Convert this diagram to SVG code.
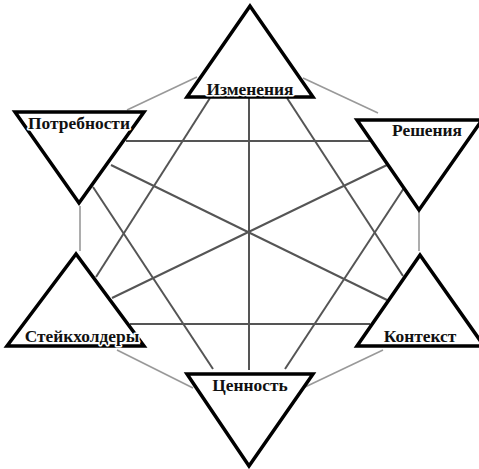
<svg xmlns="http://www.w3.org/2000/svg" width="479" height="469" viewBox="0 0 479 469">
<style>
.tri{fill:none;stroke:#000;stroke-width:3.5;stroke-linejoin:miter}
.lbl{font-family:"Liberation Serif","Times New Roman",serif;font-weight:bold;font-size:17.4px;fill:#111;text-anchor:middle;paint-order:stroke;stroke:#fff;stroke-width:3px;stroke-linejoin:round}
.in{stroke:#555;stroke-width:2;fill:none}
.out{stroke:#999;stroke-width:1.6;fill:none}
</style>
<rect width="479" height="469" fill="#fff"/>
<g id="connectors">
<line class="out" x1="197" y1="77" x2="127" y2="110"/>
<line class="out" x1="303" y1="78" x2="378" y2="113"/>
<line class="out" x1="80" y1="206" x2="80" y2="251"/>
<line class="out" x1="419" y1="212" x2="419" y2="251"/>
<line class="out" x1="117" y1="350" x2="193" y2="388"/>
<line class="out" x1="303" y1="388" x2="383" y2="350"/>
<line class="in" x1="249" y1="98" x2="249" y2="370"/>
<line class="in" x1="126" y1="141" x2="372" y2="141"/>
<line class="in" x1="130" y1="324" x2="370" y2="324"/>
<line class="in" x1="210" y1="98" x2="96" y2="277"/>
<line class="in" x1="287" y1="98" x2="403" y2="276"/>
<line class="in" x1="93" y1="187" x2="213" y2="369"/>
<line class="in" x1="404" y1="188" x2="285" y2="369"/>
<line class="in" x1="111" y1="165" x2="387" y2="300"/>
<line class="in" x1="387" y1="165" x2="112" y2="298"/>
</g>
<g id="izmeneniya">
<polygon class="tri" points="250,6 187,97 313,97"/>
<text class="lbl" x="250" y="95">Изменения</text>
</g>
<g id="potrebnosti">
<polygon class="tri" points="15,112 144,112 79,203"/>
<text class="lbl" x="79" y="129">Потребности</text>
</g>
<g id="resheniya">
<polygon class="tri" points="357,120 482,120 419,210"/>
<text class="lbl" x="427" y="136">Решения</text>
</g>
<g id="steykholdery">
<polygon class="tri" points="76,254 7,346 144,346"/>
<text class="lbl" x="82" y="342">Стейкхолдеры</text>
</g>
<g id="kontekst">
<polygon class="tri" points="420,255 357,346 484,346"/>
<text class="lbl" x="420" y="342">Контекст</text>
</g>
<g id="tsennost">
<polygon class="tri" points="187,374 313,374 249,466"/>
<text class="lbl" x="250" y="391">Ценность</text>
</g>
</svg>
